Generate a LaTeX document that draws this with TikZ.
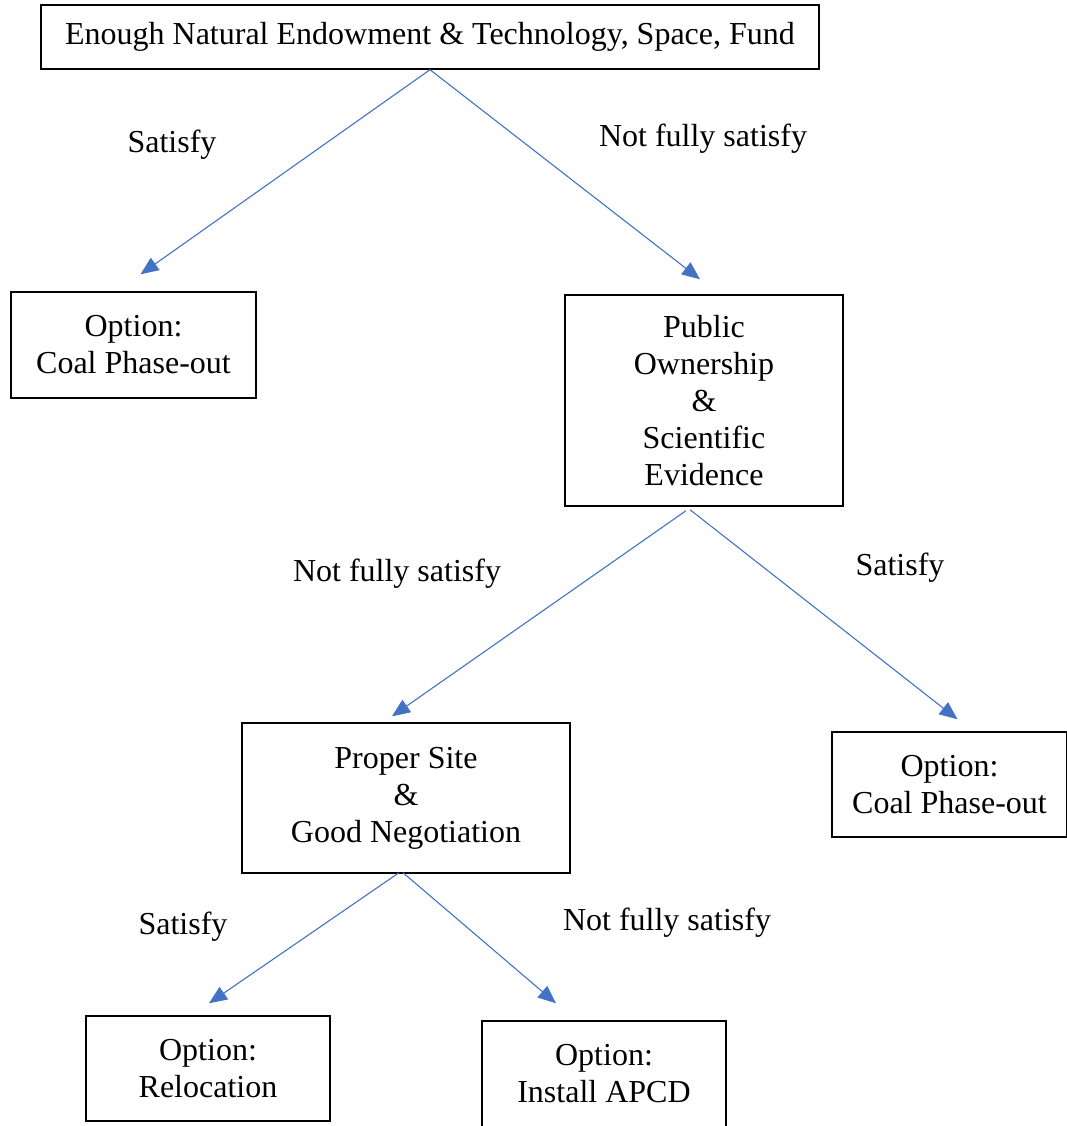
\documentclass[tikz,border=0pt]{standalone}
\usepackage{fontspec}
\setmainfont{Liberation Serif}
\usetikzlibrary{arrows.meta,calc}
\definecolor{arrowblue}{HTML}{4472C4}
\begin{document}
\begin{tikzpicture}[x=1pt,y=-1pt,
  box/.style={draw=black,line width=1.4pt,align=center,inner sep=0pt,
    font=\fontsize{32}{37}\selectfont},
  lbl/.style={font=\fontsize{32}{37}\selectfont},
  conn/.style={draw=arrowblue,line width=1.1pt,-{Triangle[length=18pt,width=15pt]}}]
\useasboundingbox (0,0) rectangle (1066,1126);
\fill[white] (0,0) rectangle (1066,1126);
\node[box,minimum width=778pt,minimum height=64pt] (top) at (430,37) {\raisebox{-3pt}{Enough Natural Endowment \& Technology, Space, Fund}};
\node[box,minimum width=245pt,minimum height=106pt] (opt1) at (133.5,345) {Option:\\Coal Phase-out};
\node[box,minimum width=278pt,minimum height=211pt] (pub) at (704,400.5) {Public\\Ownership\\\&\\Scientific\\Evidence};
\node[box,minimum width=328pt,minimum height=150pt] (site) at (406,798) {Proper Site\\\&\\Good Negotiation};
\node[box,minimum width=235pt,minimum height=105pt] (opt2) at (949.5,784.5) {Option:\\Coal Phase-out};
\node[box,minimum width=244pt,minimum height=105pt] (reloc) at (208,1068.5) {Option:\\Relocation};
\node[box,minimum width=244pt,minimum height=106pt] (apcd) at (604,1074) {Option:\\Install APCD};

\coordinate (t1) at ($(opt1.north)+(7,-17)$);
\coordinate (t2) at ($(pub.north)+(-4,-15)$);
\coordinate (t3) at ($(site.north)+(-14,-6)$);
\coordinate (t4) at ($(opt2.north)+(8,-12)$);
\coordinate (t5) at ($(reloc.north)+(1,-12)$);
\coordinate (t6) at ($(apcd.north)+(-48,-17)$);

\draw[conn] (top.south) -- (t1);
\draw[conn] (top.south) -- (t2);
\draw[conn] ($(pub.south)+(-18,4)$) -- (t3);
\draw[conn] ($(pub.south)+(-14,3)$) -- (t4);
\draw[conn] ($(site.south)+(-7,-1)$) -- (t5);
\draw[conn] ($(site.south)+(-3,-1)$) -- (t6);

\node[lbl] (l1) at (172,145) {Satisfy};
\node[lbl] (l2) at (703,139) {Not fully satisfy};
\node[lbl] (l3) at (397,574) {Not fully satisfy};
\node[lbl] (l4) at (900,568) {Satisfy};
\node[lbl] (l5) at (183,927) {Satisfy};
\node[lbl] (l6) at (667,923) {Not fully satisfy};
\end{tikzpicture}
\end{document}
